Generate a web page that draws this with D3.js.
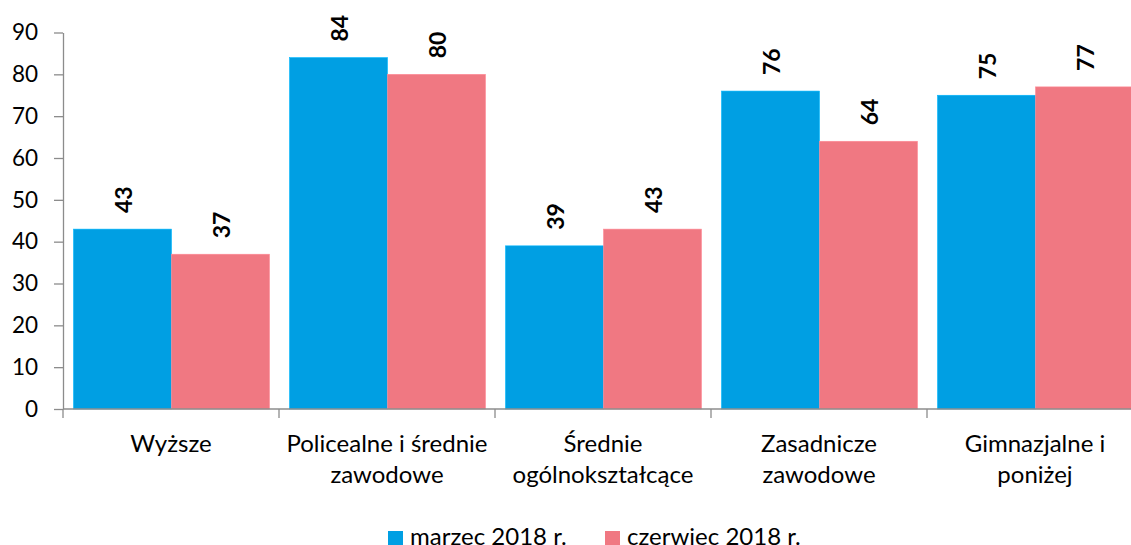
<!DOCTYPE html>
<html lang="pl">
<head>
  <meta charset="UTF-8">
  <title>Wykształcenie</title>
  <script src="https://d3js.org/d3.v7.min.js"></script>
  <style>
    body { margin: 0; background: #fff; }
    text { font-family: Lato, "Open Sans", sans-serif; fill: #000; }
  </style>
</head>
<body>
  <div id="chart"></div>
  <script>
    // data
    const categories = [
      ['Wyższe'],
      ['Policealne i średnie', 'zawodowe'],
      ['Średnie', 'ogólnokształcące'],
      ['Zasadnicze', 'zawodowe'],
      ['Gimnazjalne i', 'poniżej']
    ];
    const seriesNames = ['marzec 2018 r.', 'czerwiec 2018 r.'];
    const marzec = [43, 84, 39, 76, 75];
    const czerwiec = [37, 80, 43, 64, 77];
    const yTicks = [0, 10, 20, 30, 40, 50, 60, 70, 80, 90];
    const colors = ['#009FE3', '#F07882'];

    const width = 1131, height = 545;
    const plotLeft = 63, plotRight = 1143, plotTop = 32.5, plotBottom = 409;

    const svg = d3.select('#chart').append('svg')
      .attr('width', width)
      .attr('height', height);

    const keys = categories.map((c, i) => i);
    const x = d3.scaleBand().domain(keys).range([plotLeft, plotRight]).padding(0);
    const xs = d3.scaleBand().domain([0, 1]).range([10.5, x.bandwidth() - 9.5]).padding(0);
    const y = d3.scaleLinear().domain([0, 90]).range([plotBottom, plotTop]);

    // bars
    const series = [marzec, czerwiec];
    series.forEach((vals, s) => {
      svg.append('g').selectAll('rect')
        .data(vals)
        .enter().append('rect')
        .attr('x', (d, i) => x(i) + xs(s))
        .attr('y', d => y(d))
        .attr('width', xs.bandwidth())
        .attr('height', d => y(0) - y(d))
        .attr('fill', colors[s])
        .attr('stroke', d3.color(colors[s]).brighter(0.4))
        .attr('stroke-width', 0.6);

      svg.append('g').selectAll('text')
        .data(vals)
        .enter().append('text')
        .attr('transform', (d, i) => `translate(${x(i) + xs(s) + xs.bandwidth() / 2 + 1},${y(d) - 16}) rotate(-90)`)
        .attr('dy', '0.36em')
        .attr('text-anchor', 'start')
        .style('font-size', '23px')
        .style('font-weight', 'bold')
        .text(d => d);
    });

    // y axis
    const yAxis = svg.append('g')
      .attr('transform', `translate(${plotLeft},0)`)
      .call(d3.axisLeft(y).tickValues(yTicks).tickSize(9).tickPadding(16).tickSizeOuter(0));
    yAxis.selectAll('line, path').attr('stroke', '#8c8c8c').attr('stroke-width', 1.3);
    yAxis.selectAll('text').style('font-size', '22.5px').style('font-family', 'Lato, sans-serif').attr('fill', '#000');

    // x axis
    const xAxis = svg.append('g')
      .attr('transform', `translate(0,${plotBottom})`);
    xAxis.append('line')
      .attr('x1', plotLeft).attr('x2', plotRight)
      .attr('stroke', '#8c8c8c').attr('stroke-width', 1.3);
    xAxis.selectAll('.tick')
      .data(keys.concat([keys.length]))
      .enter().append('line')
      .attr('x1', d => plotLeft + d * x.bandwidth())
      .attr('x2', d => plotLeft + d * x.bandwidth())
      .attr('y1', 0).attr('y2', 9)
      .attr('stroke', '#8c8c8c').attr('stroke-width', 1.3);

    // category labels
    categories.forEach((lines, i) => {
      const t = svg.append('text')
        .attr('text-anchor', 'middle')
        .attr('y', 452)
        .style('font-size', '24px');
      lines.forEach((line, j) => {
        t.append('tspan')
          .attr('x', x(i) + x.bandwidth() / 2)
          .attr('dy', j === 0 ? 0 : 31)
          .text(line);
      });
    });

    // legend
    const legendX = [388, 605];
    const legend = svg.append('g');
    seriesNames.forEach((name, s) => {
      legend.append('rect')
        .attr('x', legendX[s]).attr('y', 531)
        .attr('width', 15).attr('height', 15)
        .attr('fill', colors[s]);
      legend.append('text')
        .attr('x', legendX[s] + 22).attr('y', 545)
        .style('font-size', '24px')
        .text(name);
    });
  </script>
</body>
</html>
